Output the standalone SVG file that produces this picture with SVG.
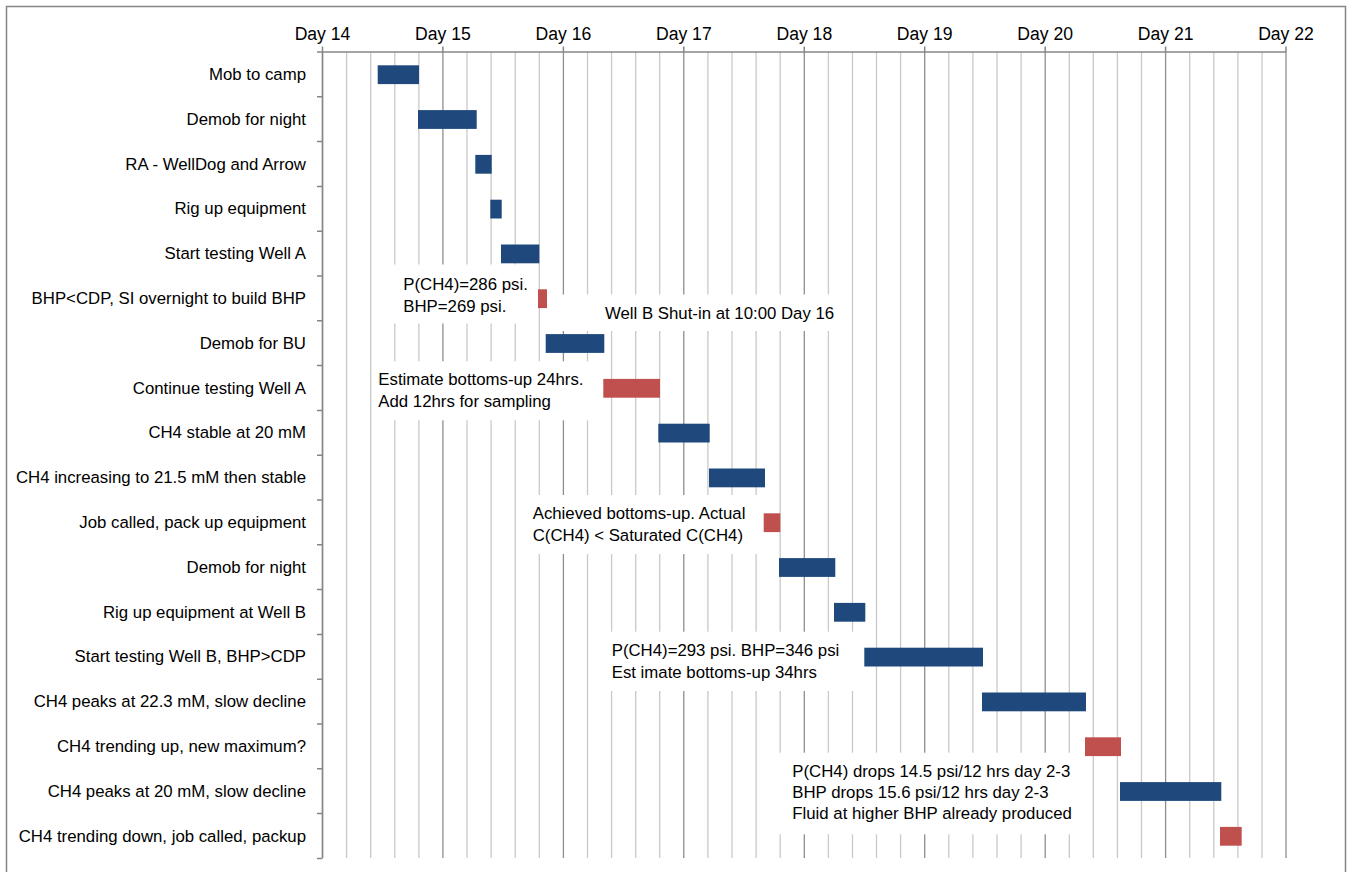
<svg xmlns="http://www.w3.org/2000/svg" width="1350" height="872" viewBox="0 0 1350 872">
<style>
text{font-family:"Liberation Sans",Arial,sans-serif;font-size:16.8px;fill:#000}
.lbl{text-anchor:end}
.day{text-anchor:middle;font-size:17.6px}
.minor{stroke:#c9c9c9;stroke-width:1.3}
.major{stroke:#8e8e8e;stroke-width:1.3}
.axis{stroke:#868686;stroke-width:1.5;fill:none}
.b{fill:#1F497D}
.r{fill:#C0504D}
.box{fill:#ffffff}
</style>
<rect x="0" y="0" width="1350" height="872" fill="#ffffff"/>
<path class="axis" d="M6.5,872 V6.5 H1345.5 V872"/>
<g id="grid">
<line class="major" x1="322.5" y1="52" x2="322.5" y2="858"/>
<line class="minor" x1="346.6" y1="52" x2="346.6" y2="858"/>
<line class="minor" x1="370.7" y1="52" x2="370.7" y2="858"/>
<line class="minor" x1="394.8" y1="52" x2="394.8" y2="858"/>
<line class="minor" x1="418.9" y1="52" x2="418.9" y2="858"/>
<line class="major" x1="442.9" y1="52" x2="442.9" y2="858"/>
<line class="minor" x1="467.0" y1="52" x2="467.0" y2="858"/>
<line class="minor" x1="491.1" y1="52" x2="491.1" y2="858"/>
<line class="minor" x1="515.2" y1="52" x2="515.2" y2="858"/>
<line class="minor" x1="539.3" y1="52" x2="539.3" y2="858"/>
<line class="major" x1="563.4" y1="52" x2="563.4" y2="858"/>
<line class="minor" x1="587.5" y1="52" x2="587.5" y2="858"/>
<line class="minor" x1="611.6" y1="52" x2="611.6" y2="858"/>
<line class="minor" x1="635.7" y1="52" x2="635.7" y2="858"/>
<line class="minor" x1="659.7" y1="52" x2="659.7" y2="858"/>
<line class="major" x1="683.8" y1="52" x2="683.8" y2="858"/>
<line class="minor" x1="707.9" y1="52" x2="707.9" y2="858"/>
<line class="minor" x1="732.0" y1="52" x2="732.0" y2="858"/>
<line class="minor" x1="756.1" y1="52" x2="756.1" y2="858"/>
<line class="minor" x1="780.2" y1="52" x2="780.2" y2="858"/>
<line class="major" x1="804.3" y1="52" x2="804.3" y2="858"/>
<line class="minor" x1="828.4" y1="52" x2="828.4" y2="858"/>
<line class="minor" x1="852.5" y1="52" x2="852.5" y2="858"/>
<line class="minor" x1="876.5" y1="52" x2="876.5" y2="858"/>
<line class="minor" x1="900.6" y1="52" x2="900.6" y2="858"/>
<line class="major" x1="924.7" y1="52" x2="924.7" y2="858"/>
<line class="minor" x1="948.8" y1="52" x2="948.8" y2="858"/>
<line class="minor" x1="972.9" y1="52" x2="972.9" y2="858"/>
<line class="minor" x1="997.0" y1="52" x2="997.0" y2="858"/>
<line class="minor" x1="1021.1" y1="52" x2="1021.1" y2="858"/>
<line class="major" x1="1045.2" y1="52" x2="1045.2" y2="858"/>
<line class="minor" x1="1069.3" y1="52" x2="1069.3" y2="858"/>
<line class="minor" x1="1093.3" y1="52" x2="1093.3" y2="858"/>
<line class="minor" x1="1117.4" y1="52" x2="1117.4" y2="858"/>
<line class="minor" x1="1141.5" y1="52" x2="1141.5" y2="858"/>
<line class="major" x1="1165.6" y1="52" x2="1165.6" y2="858"/>
<line class="minor" x1="1189.7" y1="52" x2="1189.7" y2="858"/>
<line class="minor" x1="1213.8" y1="52" x2="1213.8" y2="858"/>
<line class="minor" x1="1237.9" y1="52" x2="1237.9" y2="858"/>
<line class="minor" x1="1262.0" y1="52" x2="1262.0" y2="858"/>
<line class="major" x1="1286.0" y1="52" x2="1286.0" y2="858"/>
</g>
<g id="axes">
<path class="axis" d="M317,52 H1286 M322.5,46.5 V858 M442.9,46.5 V52 M563.4,46.5 V52 M683.8,46.5 V52 M804.3,46.5 V52 M924.7,46.5 V52 M1045.2,46.5 V52 M1165.6,46.5 V52 M1286,46.5 V52 M317,96.8 H322.5 M317,141.6 H322.5 M317,186.4 H322.5 M317,231.2 H322.5 M317,276 H322.5 M317,320.8 H322.5 M317,365.6 H322.5 M317,410.4 H322.5 M317,455.2 H322.5 M317,500 H322.5 M317,544.8 H322.5 M317,589.6 H322.5 M317,634.4 H322.5 M317,679.2 H322.5 M317,724 H322.5 M317,768.8 H322.5 M317,813.6 H322.5 M317,858.4 H322.5"/>
<text class="day" x="322.5" y="40">Day 14</text>
<text class="day" x="442.9" y="40">Day 15</text>
<text class="day" x="563.4" y="40">Day 16</text>
<text class="day" x="683.8" y="40">Day 17</text>
<text class="day" x="804.3" y="40">Day 18</text>
<text class="day" x="924.7" y="40">Day 19</text>
<text class="day" x="1045.2" y="40">Day 20</text>
<text class="day" x="1165.6" y="40">Day 21</text>
<text class="day" x="1286" y="40">Day 22</text>
</g>
<g id="task01"><text class="lbl" x="306" y="79.9">Mob to camp</text><rect class="b" x="377.7" y="65.3" width="41.3" height="18.8"/></g>
<g id="task02"><text class="lbl" x="306" y="124.7">Demob for night</text><rect class="b" x="418" y="110.1" width="58.7" height="18.8"/></g>
<g id="task03"><text class="lbl" x="306" y="169.5">RA - WellDog and Arrow</text><rect class="b" x="475.3" y="154.9" width="16.4" height="18.8"/></g>
<g id="task04"><text class="lbl" x="306" y="214.3">Rig up equipment</text><rect class="b" x="490.3" y="199.7" width="11.4" height="18.8"/></g>
<g id="task05"><text class="lbl" x="306" y="259.1">Start testing Well A</text><rect class="b" x="501" y="244.5" width="38.3" height="18.8"/></g>
<g id="task06"><text class="lbl" x="306" y="303.9">BHP&lt;CDP, SI overnight to build BHP</text><rect class="r" x="538" y="289.3" width="9" height="18.8"/></g>
<g id="task07"><text class="lbl" x="306" y="348.7">Demob for BU</text><rect class="b" x="545.7" y="334.1" width="58.6" height="18.8"/></g>
<g id="task08"><text class="lbl" x="306" y="393.5">Continue testing Well A</text><rect class="r" x="603.3" y="378.9" width="56.7" height="18.8"/></g>
<g id="task09"><text class="lbl" x="306" y="438.3">CH4 stable at 20 mM</text><rect class="b" x="658.3" y="423.7" width="51.4" height="18.8"/></g>
<g id="task10"><text class="lbl" x="306" y="483.1">CH4 increasing to 21.5 mM then stable</text><rect class="b" x="709" y="468.5" width="56" height="18.8"/></g>
<g id="task11"><text class="lbl" x="306" y="527.9">Job called, pack up equipment</text><rect class="r" x="763.7" y="513.3" width="16.6" height="18.8"/></g>
<g id="task12"><text class="lbl" x="306" y="572.7">Demob for night</text><rect class="b" x="779" y="558.1" width="56.3" height="18.8"/></g>
<g id="task13"><text class="lbl" x="306" y="617.5">Rig up equipment at Well B</text><rect class="b" x="834" y="602.9" width="31.3" height="18.8"/></g>
<g id="task14"><text class="lbl" x="306" y="662.3">Start testing Well B, BHP&gt;CDP</text><rect class="b" x="864.3" y="647.7" width="118.7" height="18.8"/></g>
<g id="task15"><text class="lbl" x="306" y="707.1">CH4 peaks at 22.3 mM, slow decline</text><rect class="b" x="982" y="692.5" width="104" height="18.8"/></g>
<g id="task16"><text class="lbl" x="306" y="751.9">CH4 trending up, new maximum?</text><rect class="r" x="1085" y="737.3" width="36" height="18.8"/></g>
<g id="task17"><text class="lbl" x="306" y="796.7">CH4 peaks at 20 mM, slow decline</text><rect class="b" x="1120" y="782.1" width="101.3" height="18.8"/></g>
<g id="task18"><text class="lbl" x="306" y="841.5">CH4 trending down, job called, packup</text><rect class="r" x="1220" y="826.9" width="21.7" height="18.8"/></g>
<g id="note1"><rect class="box" x="380" y="264.5" width="150" height="59"/><text x="403.3" y="290.3">P(CH4)=286 psi.</text><text x="403.3" y="312.3">BHP=269 psi.</text></g>
<g id="note2"><rect class="box" x="552" y="294.5" width="292" height="36.5"/><text x="605" y="318.7">Well B Shut-in at 10:00 Day 16</text></g>
<g id="note3"><rect class="box" x="372" y="361.3" width="226" height="59"/><text x="378.3" y="385.3">Estimate bottoms-up 24hrs.</text><text x="378.3" y="407.3">Add 12hrs for sampling</text></g>
<g id="note4"><rect class="box" x="525" y="495" width="232" height="59"/><text x="532.7" y="519.3">Achieved bottoms-up. Actual</text><text x="532.7" y="541.3">C(CH4) &lt; Saturated C(CH4)</text></g>
<g id="note5"><rect class="box" x="600" y="631.7" width="258" height="59.3"/><text x="611.7" y="656">P(CH4)=293 psi. BHP=346 psi</text><text x="611.7" y="678.2">Est imate bottoms-up 34hrs</text></g>
<g id="note6"><rect class="box" x="770" y="752.7" width="312" height="81.6"/><text x="792.3" y="776.7">P(CH4) drops 14.5 psi/12 hrs day 2-3</text><text x="792.3" y="798">BHP drops 15.6 psi/12 hrs day 2-3</text><text x="792.3" y="819.3">Fluid at higher BHP already produced</text></g>
</svg>
